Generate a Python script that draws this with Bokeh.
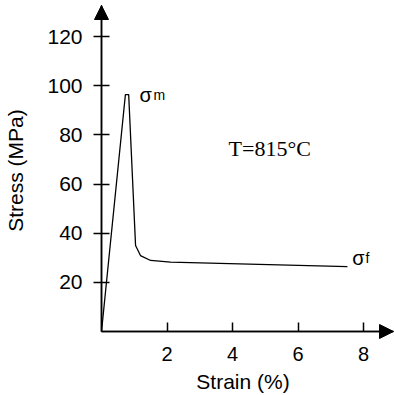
from bokeh.plotting import figure
from bokeh.models import (Range1d, FixedTicker, Label, LinearAxis, Arrow, NormalHead,
                          CustomJSTickFormatter)
from bokeh.embed import file_html
from bokeh.resources import INLINE

# data
strain = [0.0, 0.73, 0.83, 1.04, 1.19, 1.50, 2.11, 7.51]
stress = [0.0, 96.4, 96.4, 35.0, 30.9, 28.9, 28.2, 26.4]
x_ticks = [2, 4, 6, 8]
y_ticks = [20, 40, 60, 80, 100, 120]

SX = 32.75   # px per unit strain
SY = 2.458   # px per MPa
X0, Y0 = 101, 331          # pixel position of the origin
FL, FB = 91, 340           # frame left / bottom pixel
W, H = 394, 395

p = figure(width=W, height=H, output_backend="svg", toolbar_location=None,
           x_range=Range1d((FL - X0) / SX, (W - X0) / SX),
           y_range=Range1d((Y0 - FB) / SY, Y0 / SY),
           min_border_left=FL, min_border_right=0,
           min_border_top=0, min_border_bottom=H - FB)
p.outline_line_color = None
p.grid.visible = False
p.background_fill_color = "white"

font = "Liberation Sans"
x_tip = (393 - X0) / SX
y_tip = (Y0 - 5) / SY

# main axes: only tick labels and axis titles
xa = p.xaxis[0]
xa.ticker = FixedTicker(ticks=x_ticks)
xa.axis_line_color = None
xa.major_tick_line_color = None
xa.minor_tick_line_color = None
xa.major_tick_in = 0
xa.major_tick_out = 0
xa.major_label_text_font = font
xa.major_label_text_font_size = "20px"
xa.major_label_text_color = "black"
xa.major_label_standoff = 6
xa.axis_label = "Strain (%)"
xa.axis_label_text_font = font
xa.axis_label_text_font_style = "normal"
xa.axis_label_text_font_size = "21px"
xa.axis_label_text_color = "black"
xa.axis_label_standoff = 6

ya = p.yaxis[0]
ya.ticker = FixedTicker(ticks=y_ticks)
ya.axis_line_color = None
ya.major_tick_line_color = None
ya.minor_tick_line_color = None
ya.major_tick_in = 0
ya.major_tick_out = 0
ya.major_label_text_font = font
ya.major_label_text_font_size = "21px"
ya.major_label_text_color = "black"
ya.major_label_standoff = 9
ya.axis_label = "Stress (MPa)"
ya.axis_label_text_font = font
ya.axis_label_text_font_style = "normal"
ya.axis_label_text_font_size = "21px"
ya.axis_label_text_color = "black"
ya.axis_label_standoff = 17

# axis lines and ticks through the origin
blank = CustomJSTickFormatter(code="return ''")
xl = LinearAxis(fixed_location=0, ticker=FixedTicker(ticks=x_ticks), formatter=blank,
                bounds=(0, x_tip), major_tick_in=9, major_tick_out=0,
                minor_tick_line_color=None, axis_line_width=1.5, major_tick_line_width=1.5)
yl = LinearAxis(fixed_location=0, ticker=FixedTicker(ticks=y_ticks), formatter=blank,
                bounds=(0, y_tip), major_tick_in=8, major_tick_out=8,
                minor_tick_line_color=None, axis_line_width=1.5, major_tick_line_width=1.5)
p.add_layout(xl, "below")
p.add_layout(yl, "left")

# arrow heads
p.add_layout(Arrow(end=NormalHead(size=14, fill_color="black", line_color="black"),
                   x_start=0, y_start=0, x_end=x_tip, y_end=0,
                   line_width=1.5, line_color="black"))
p.add_layout(Arrow(end=NormalHead(size=14, fill_color="black", line_color="black"),
                   x_start=0, y_start=0, x_end=0, y_end=y_tip,
                   line_width=1.5, line_color="black"))

p.line(strain, stress, line_color="black", line_width=1.3)

p.add_layout(Label(x=1.16, y=96.4, text="σ", text_font=font, text_font_size="20px",
                   text_color="black", text_baseline="alphabetic"))
p.add_layout(Label(x=1.59, y=96.4, text="m", text_font=font, text_font_size="14px",
                   text_color="black", text_baseline="alphabetic"))
p.add_layout(Label(x=7.66, y=30.1, text="σ", text_font=font, text_font_size="20px",
                   text_color="black", text_baseline="alphabetic"))
p.add_layout(Label(x=8.06, y=30.1, text="f", text_font=font, text_font_size="14px",
                   text_color="black", text_baseline="alphabetic"))
p.add_layout(Label(x=3.88, y=74.4, text="T=815°C", text_font="Liberation Serif",
                   text_font_size="22px", text_color="black", text_baseline="alphabetic"))

open("out.html", "w").write(file_html(p, INLINE))
